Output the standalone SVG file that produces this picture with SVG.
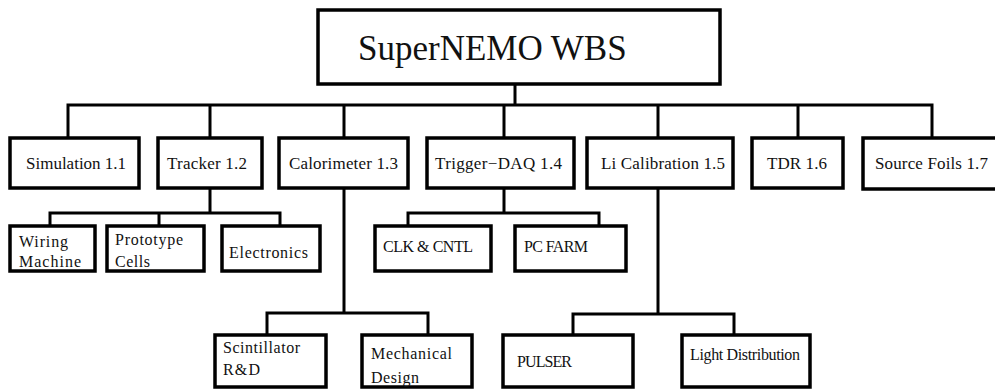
<svg xmlns="http://www.w3.org/2000/svg" width="995" height="389" viewBox="0 0 995 389">
<style>
.box{fill:#fff;stroke:#000;stroke-width:3.5}
.ln{fill:none;stroke:#000;stroke-width:3;stroke-linecap:square}
text{font-family:"Liberation Serif","Times New Roman",serif;fill:#111}
.t1{font-size:35px}
.t2{font-size:17px}
.t3{font-size:16px}
</style>
<rect width="995" height="389" fill="#fff"/>
<g id="connectors">
<path class="ln" d="M515,84 V105 M68,105 H932 M68,105 V138 M210,105 V138 M344,105 V138 M504,105 V138 M658,105 V138 M798,105 V138 M932,105 V138"/>
<path class="ln" d="M210,188 V213 M50,213 H280 M50,213 V226 M159,213 V226 M280,213 V226"/>
<path class="ln" d="M504,188 V213 M408,213 H599 M408,213 V226 M599,213 V226"/>
<path class="ln" d="M344,188 V313 M267,313 H428 M267,313 V335 M428,313 V335"/>
<path class="ln" d="M658,188 V314 M573,314 H734 M573,314 V335 M734,314 V335"/>
</g>
<g id="root"><rect class="box" x="318" y="10" width="402" height="74"/><text class="t1" x="358" y="60">SuperNEMO WBS</text></g>
<g id="sim"><rect class="box" x="10" y="138" width="129" height="50"/><text class="t2" x="26" y="169">Simulation 1.1</text></g>
<g id="tracker"><rect class="box" x="158" y="138" width="104" height="50"/><text class="t2" x="167" y="169" textLength="80">Tracker 1.2</text></g>
<g id="calo"><rect class="box" x="279" y="138" width="129" height="50"/><text class="t2" x="289" y="169" textLength="109">Calorimeter 1.3</text></g>
<g id="trigger"><rect class="box" x="427" y="138" width="147" height="50"/><text class="t2" x="435" y="169" textLength="127">Trigger−DAQ 1.4</text></g>
<g id="licalib"><rect class="box" x="587" y="138" width="146" height="50"/><text class="t2" x="601" y="169" textLength="124">Li Calibration 1.5</text></g>
<g id="tdr"><rect class="box" x="752" y="138" width="91" height="50"/><text class="t2" x="767" y="169" textLength="60">TDR 1.6</text></g>
<g id="foils"><rect class="box" x="863" y="138" width="140" height="51"/><text class="t2" x="875" y="169" textLength="113">Source Foils 1.7</text></g>
<g id="wiring"><rect class="box" x="10" y="226" width="85" height="45"/><text class="t3" x="19" y="247" textLength="49">Wiring</text><text class="t3" x="19" y="267" textLength="62">Machine</text></g>
<g id="proto"><rect class="box" x="107" y="226" width="97" height="45"/><text class="t3" x="115" y="245" textLength="68">Prototype</text><text class="t3" x="115" y="267" textLength="35">Cells</text></g>
<g id="electronics"><rect class="box" x="222" y="226" width="98" height="45"/><text class="t3" x="229" y="258" textLength="79">Electronics</text></g>
<g id="clk"><rect class="box" x="375" y="226" width="116" height="45"/><text class="t3" x="383" y="252" textLength="90">CLK &amp; CNTL</text></g>
<g id="pcfarm"><rect class="box" x="515" y="226" width="111" height="45"/><text class="t3" x="524" y="252" textLength="64">PC FARM</text></g>
<g id="scint"><rect class="box" x="215" y="335" width="111" height="52"/><text class="t3" x="223" y="353" textLength="77">Scintillator</text><text class="t3" x="223" y="375" textLength="37">R&amp;D</text></g>
<g id="mech"><rect class="box" x="362" y="335" width="110" height="52"/><text class="t3" x="371" y="359" textLength="81">Mechanical</text><text class="t3" x="371" y="383" textLength="48">Design</text></g>
<g id="pulser"><rect class="box" x="503" y="335" width="130" height="52"/><text class="t3" x="517" y="367" textLength="55">PULSER</text></g>
<g id="light"><rect class="box" x="682" y="335" width="128" height="52"/><text class="t3" x="690" y="360" textLength="110">Light Distribution</text></g>
</svg>
